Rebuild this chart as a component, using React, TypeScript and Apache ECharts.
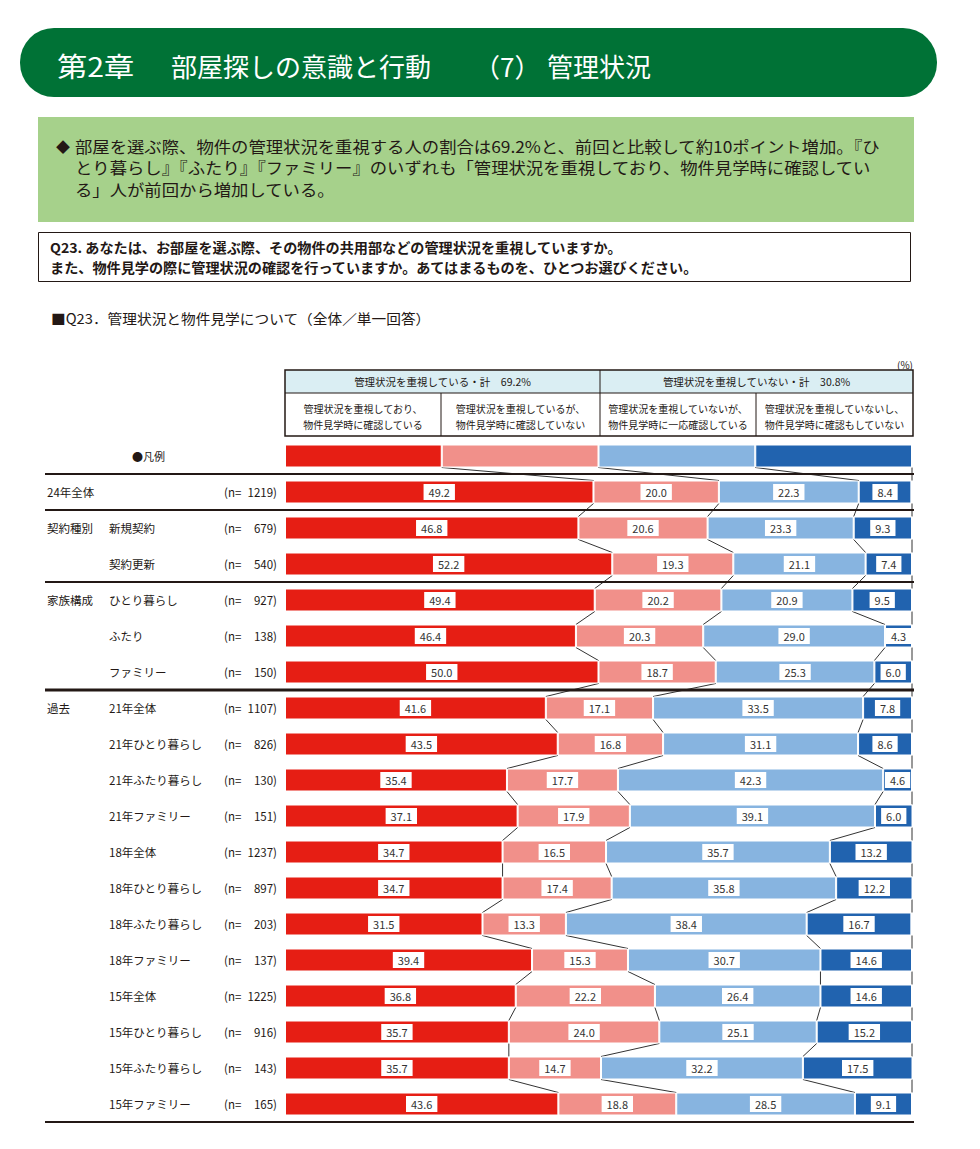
import React, { useEffect, useRef } from "react";
import * as echarts from "echarts";

const FONT = "'Noto Sans CJK JP', 'Noto Sans', sans-serif";

const categories = [
  "凡例", "24年全体", "新規契約", "契約更新", "ひとり暮らし", "ふたり", "ファミリー",
  "21年全体", "21年ひとり暮らし", "21年ふたり暮らし", "21年ファミリー",
  "18年全体", "18年ひとり暮らし", "18年ふたり暮らし", "18年ファミリー",
  "15年全体", "15年ひとり暮らし", "15年ふたり暮らし", "15年ファミリー",
];
const groupLabels = [
  "", "24年全体", "契約種別", "", "家族構成", "", "",
  "過去", "", "", "", "", "", "", "", "", "", "", "",
];
const itemLabels = [
  "", "", "新規契約", "契約更新", "ひとり暮らし", "ふたり", "ファミリー",
  "21年全体", "21年ひとり暮らし", "21年ふたり暮らし", "21年ファミリー",
  "18年全体", "18年ひとり暮らし", "18年ふたり暮らし", "18年ファミリー",
  "15年全体", "15年ひとり暮らし", "15年ふたり暮らし", "15年ファミリー",
];
const nLabels = [
  "", "1219", "679", "540", "927", "138", "150",
  "1107", "826", "130", "151", "1237", "897", "203", "137", "1225", "916", "143", "165",
];

const seriesNames = [
  "管理状況を重視しており、物件見学時に確認している",
  "管理状況を重視しているが、物件見学時に確認していない",
  "管理状況を重視していないが、物件見学時に一応確認している",
  "管理状況を重視していないし、物件見学時に確認もしていない",
];
const s1 = [25, 49.2, 46.8, 52.2, 49.4, 46.4, 50.0, 41.6, 43.5, 35.4, 37.1, 34.7, 34.7, 31.5, 39.4, 36.8, 35.7, 35.7, 43.6];
const s2 = [25, 20.0, 20.6, 19.3, 20.2, 20.3, 18.7, 17.1, 16.8, 17.7, 17.9, 16.5, 17.4, 13.3, 15.3, 22.2, 24.0, 14.7, 18.8];
const s3 = [25, 22.3, 23.3, 21.1, 20.9, 29.0, 25.3, 33.5, 31.1, 42.3, 39.1, 35.7, 35.8, 38.4, 30.7, 26.4, 25.1, 32.2, 28.5];
const s4 = [25, 8.4, 9.3, 7.4, 9.5, 4.3, 6.0, 7.8, 8.6, 4.6, 6.0, 13.2, 12.2, 16.7, 14.6, 14.6, 15.2, 17.5, 9.1];

const headerTotals = ["管理状況を重視している・計　69.2%", "管理状況を重視していない・計　30.8%"];
const headerCols = [
  ["管理状況を重視しており、", "物件見学時に確認している"],
  ["管理状況を重視しているが、", "物件見学時に確認していない"],
  ["管理状況を重視していないが、", "物件見学時に一応確認している"],
  ["管理状況を重視していないし、", "物件見学時に確認もしていない"],
];
const summaryLines = [
  "部屋を選ぶ際、物件の管理状況を重視する人の割合は69.2%と、前回と比較して約10ポイント増加。『ひ",
  "とり暮らし』『ふたり』『ファミリー』のいずれも「管理状況を重視しており、物件見学時に確認してい",
  "る」人が前回から増加している。",
];
const questionLines = [
  "Q23. あなたは、お部屋を選ぶ際、その物件の共用部などの管理状況を重視していますか。",
  "また、物件見学の際に管理状況の確認を行っていますか。あてはまるものを、ひとつお選びください。",
];

const COLORS = ["#e61e14", "#f1908a", "#87b4e0", "#2163af"];
const INK = "#231815";
const BAR_W = 23;

const allSeries = [s1, s2, s3, s4];
function cum(row: number, k: number): number {
  let s = 0;
  for (let j = 0; j < k; j++) s += allSeries[j][row];
  return s;
}

function txt(text: string, x: number, y: number, size: number, extra: any = {}) {
  const align = extra.align || "left";
  return {
    type: "text",
    x,
    y,
    scaleX: extra.scaleX || 1,
    silent: true,
    style: {
      text,
      fontSize: size,
      fontFamily: FONT,
      fontWeight: extra.weight || "normal",
      fill: extra.fill || INK,
      align,
      textAlign: align,
      verticalAlign: "middle",
      textVerticalAlign: "middle",
    },
  };
}
function ln(x1: number, y1: number, x2: number, y2: number, w = 1) {
  return { type: "line", silent: true, shape: { x1, y1, x2, y2 }, style: { stroke: INK, lineWidth: w } };
}

export default function App() {
  const ref = useRef<HTMLDivElement>(null);
  useEffect(() => {
    if (!ref.current) return;
    const chart = echarts.init(ref.current, undefined, { renderer: "svg" });

    const graphic: any[] = [];
    // header pill
    graphic.push({ type: "rect", silent: true, shape: { x: 20, y: 28, width: 917, height: 69, r: 34 }, style: { fill: "#007236" } });
    graphic.push(txt("第2章", 57, 65, 27, { fill: "#fff", scaleX: 1.12 }));
    graphic.push(txt("部屋探しの意識と行動", 171, 65, 26, { fill: "#fff" }));
    graphic.push(txt("（7）", 474, 65, 26, { fill: "#fff" }));
    graphic.push(txt("管理状況", 547, 65, 26, { fill: "#fff" }));
    // summary box
    graphic.push({ type: "rect", silent: true, shape: { x: 38, y: 117, width: 876, height: 105 }, style: { fill: "#a6d18b" } });
    graphic.push(txt("◆", 56, 146, 14));
    summaryLines.forEach((l, i) => graphic.push(txt(l, 75, 146 + i * 21.5, 15.5, { scaleX: 1.12 })));
    // question box
    graphic.push({ type: "rect", silent: true, shape: { x: 38.5, y: 232.5, width: 872, height: 49 }, style: { fill: "#fff", stroke: INK, lineWidth: 1 } });
    questionLines.forEach((l, i) => graphic.push(txt(l, 50, 247 + i * 20, 13.6, { weight: "bold", scaleX: 1.04 })));
    // subtitle
    graphic.push(txt("■Q23．管理状況と物件見学について（全体／単一回答）", 51, 318, 14, { scaleX: 1.05 }));
    graphic.push(txt("(%)", 905, 364, 10, { align: "center" }));
    // header table
    graphic.push({ type: "rect", silent: true, shape: { x: 285, y: 370, width: 628, height: 23 }, style: { fill: "#daeef3" } });
    graphic.push({ type: "rect", silent: true, shape: { x: 285, y: 370, width: 628, height: 66 }, style: { fill: "none", stroke: INK, lineWidth: 1.5 } });
    graphic.push(ln(285, 393, 913, 393, 1));
    graphic.push(ln(600, 370, 600, 436, 1));
    graphic.push(ln(441, 393, 441, 436, 1));
    graphic.push(ln(756, 393, 756, 436, 1));
    graphic.push(txt(headerTotals[0], 442.5, 381.5, 10.5, { align: "center" }));
    graphic.push(txt(headerTotals[1], 756.5, 381.5, 10.5, { align: "center" }));
    const colCenters = [363, 520.5, 678, 834.5];
    headerCols.forEach((c, i) => {
      graphic.push(txt(c[0], colCenters[i], 408, 10, { align: "center" }));
      graphic.push(txt(c[1], colCenters[i], 424, 10, { align: "center" }));
    });

    const separatorData: number[][] = [];
    groupLabels.forEach((g, i) => {
      if (g) separatorData.push([0, i, -1]);
    });
    separatorData.push([0, categories.length - 1, 1]);

    const barSeries = allSeries.map((vals, k) => ({
      type: "bar",
      name: seriesNames[k],
      stack: "total",
      barWidth: BAR_W,
      z: 3,
      data: vals.map((v, i) => (i === 0 ? { value: v, label: { show: false } } : v)),
      itemStyle: { color: COLORS[k], borderColor: "#fff", borderWidth: 1 },
      label: {
        show: true,
        position: "inside",
        backgroundColor: "#fff",
        padding: [3, 5, 2, 5],
        color: "#333",
        fontSize: 11,
        fontFamily: FONT,
        formatter: (p: any) => Number(p.value).toFixed(1),
      },
    }));

    const option: any = {
      animation: false,
      backgroundColor: "#fff",
      grid: { left: 285, right: 68, top: 438, height: 684 },
      xAxis: { type: "value", min: 0, max: 100, show: false },
      yAxis: {
        type: "category",
        inverse: true,
        data: categories,
        axisLine: { show: false },
        axisTick: { show: false },
        axisLabel: {
          margin: 8,
          fontFamily: FONT,
          fontSize: 11.5,
          color: INK,
          formatter: (_v: string, i: number) => {
            if (i === 0) return "{lg|●凡例}{sp| }";
            const g = groupLabels[i] || " ";
            const c = itemLabels[i] || " ";
            return `{g|${g}}{c|${c}}{n1|(n=}{n2|${nLabels[i]})}`;
          },
          rich: {
            g: { width: 62, align: "left", fontSize: 11.5, fontFamily: FONT, color: INK },
            c: { width: 115, align: "left", fontSize: 11.5, fontFamily: FONT, color: INK },
            n1: { width: 22, align: "left", fontSize: 11.5, fontFamily: FONT, color: INK },
            n2: { width: 31, align: "right", fontSize: 11.5, fontFamily: FONT, color: INK },
            lg: { width: 203, align: "right", fontSize: 11, fontFamily: FONT, color: INK },
            sp: { width: 27, align: "left", fontSize: 11 },
          },
        },
      },
      series: [
        ...barSeries,
        {
          type: "custom",
          name: "connectors",
          coordinateSystem: "cartesian2d",
          silent: true,
          clip: false,
          z: 1,
          encode: { x: 0, y: 1 },
          data: categories.slice(0, -1).map((_c, i) => [0, i]),
          renderItem: (_params: any, api: any) => {
            const i = api.value(1);
            const half = BAR_W / 2;
            const children: any[] = [];
            for (let k = 1; k <= 4; k++) {
              const a = k === 4 ? 100 : cum(i, k);
              const b = k === 4 ? 100 : cum(i + 1, k);
              const p1 = api.coord([a, i]);
              const p2 = api.coord([b, i + 1]);
              children.push({
                type: "line",
                shape: { x1: p1[0], y1: p1[1] + half, x2: p2[0], y2: p2[1] - half },
                style: { stroke: "#333", lineWidth: 1 },
              });
            }
            return { type: "group", children };
          },
        },
        {
          type: "custom",
          name: "separators",
          coordinateSystem: "cartesian2d",
          silent: true,
          clip: false,
          z: 2,
          encode: { x: 0, y: 1 },
          data: separatorData,
          renderItem: (_params: any, api: any) => {
            const r = api.value(1);
            const side = api.value(2);
            const band = api.size([0, 1])[1];
            const p = api.coord([0, r]);
            const pr = api.coord([100, r]);
            const y = p[1] + (side * band) / 2;
            const w = groupLabels[r] === "過去" ? 3 : 2;
            return {
              type: "line",
              shape: { x1: 45, y1: y, x2: pr[0] + 2, y2: y },
              style: { stroke: INK, lineWidth: w },
            };
          },
        },
      ],
      graphic,
    };
    chart.setOption(option);
    return () => chart.dispose();
  }, []);
  return (
    <div
      ref={ref}
      style={{ position: "absolute", left: 0, top: 0, width: 980, height: 1149, background: "#fff" }}
    />
  );
}
